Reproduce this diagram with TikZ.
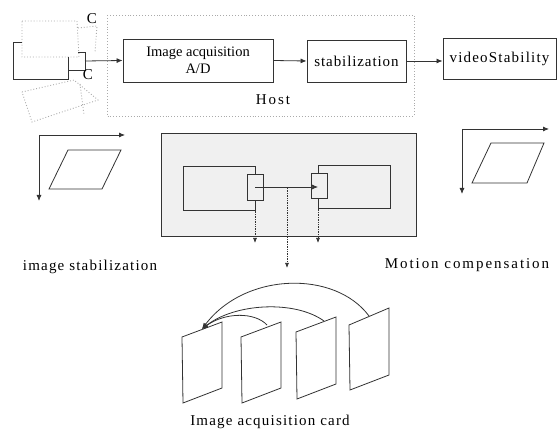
\documentclass[tikz,border=0pt]{standalone}
\usepackage{fontspec}
\setmainfont{Liberation Serif}
\newfontfamily\lsA[LetterSpace=6]{Liberation Serif}
\newfontfamily\lsB[LetterSpace=8]{Liberation Serif}
\newfontfamily\lsC[LetterSpace=13]{Liberation Serif}
\usetikzlibrary{arrows.meta}
\definecolor{ln}{HTML}{333333}
\definecolor{dt}{HTML}{AAAAAA}
\begin{document}
\begin{tikzpicture}[x=1pt,y=-1pt,
  every node/.style={font=\fontsize{15}{16}\selectfont, text=black},
  blk/.style={draw=ln, line width=0.9pt, inner sep=0pt, fill=white},
  ln/.style={draw=ln, line width=0.8pt},
  arr/.style={ln, -{Latex[length=6pt,width=5pt]}},
  dots/.style={draw=dt, line width=0.9pt, dotted},
  darr/.style={draw=ln, line width=0.7pt, densely dotted, -{Latex[length=5pt,width=4pt]}}]
\useasboundingbox (0,0) rectangle (558,430);
% camera (dotted outlines)
\draw[dots] (22,21) -- (77,21) -- (79,57) -- (22,57) -- cycle;
\draw[dots] (78,28) -- (97,26) -- (95,52);
\draw[dots] (22,92) -- (74,80) -- (98,100) -- (32,122) -- cycle;
\draw[dots] (80,84) -- (84,115);
% camera body
\draw[ln] (22,42) -- (13,42) -- (13,79) -- (68,79) -- (68,57);
\draw[ln] (68,70) -- (85,70) -- (85,52) -- (78,52);
\coordinate (cam) at (85,61);
\node (c1) at (92,19) {C};
\node (c2) at (88,75) {C};
% host
\draw[dots] (107,15) rectangle (414,116);
\node[font=\fontsize{15}{16}\lsC] (host) at (273,100) {Host};
\node[blk, minimum width=150pt, minimum height=43pt, align=center, font=\fontsize{14.5}{17}\selectfont] (acq) at (198,60.5) {Image acquisition\\A/D};
\node[blk, minimum width=99pt, minimum height=42pt, font=\fontsize{15}{16}\lsA] (stab) at (356.5,61) {stabilization};
\node[blk, minimum width=113pt, minimum height=41pt, font=\fontsize{15}{16}\lsB] (vid) at (499.5,58.5) {videoStability};
\draw[arr] (cam) -- (acq.west);
\draw[arr] (acq.east) -- (stab.west);
\draw[arr] (stab.east) -- (stab.east -| vid.west);
% left axes
\coordinate (lo) at (39,135);
\coordinate (lx) at (125,135);
\coordinate (ly) at (39,201);
\draw[arr] (lo) -- (lx);
\draw[arr] (lo) -- (ly);
\draw[ln] (68,150) -- (121,150) -- (102,189) -- (49,189) -- cycle;
% right axes
\coordinate (ro) at (462,129);
\coordinate (rx) at (549,129);
\coordinate (ry) at (462,194);
\draw[arr] (ro) -- (rx);
\draw[arr] (ro) -- (ry);
\draw[ln] (491,143) -- (544,143) -- (527,183) -- (472,183) -- cycle;
% motion compensation box
\node[draw=ln, fill=black!6, line width=0.9pt, minimum width=255pt, minimum height=103pt] (mc) at (288.5,184.5) {};
\node[draw=ln, line width=0.7pt, minimum width=72pt, minimum height=44pt] (ra) at (219,188) {};
\node[draw=ln, line width=0.7pt, minimum width=72pt, minimum height=43pt] (rb) at (354,186.5) {};
\node[draw=ln, line width=0.7pt, fill=black!6, minimum width=16pt, minimum height=26pt] (sa) at (255,187) {};
\node[draw=ln, line width=0.7pt, fill=black!6, minimum width=16pt, minimum height=25pt] (sb) at (319,185.5) {};
\coordinate (pa) at (255,187);
\coordinate (pb) at (318,187);
\draw[arr, line width=0.7pt] (pa) -- (pb);
\coordinate (da) at (255,243);
\coordinate (db) at (318,243);
\coordinate (dm0) at (287,188);
\coordinate (dm) at (287,268);
\draw[darr] (sa.south) -- (da);
\draw[darr] (sb.south -| pb) -- (db);
\draw[darr] (dm0) -- (dm);
\node[font=\fontsize{15}{16}\lsB] (ist) at (90,267) {image stabilization};
\node[font=\fontsize{15}{16}\lsC] (mcl) at (467,265) {Motion compensation};
% cards
\draw[ln] (182,337) -- (222,322) -- (222,388) -- (183,403) -- cycle;
\draw[ln] (241,337) -- (281,322) -- (281,388) -- (242,403) -- cycle;
\draw[ln] (296,332) -- (336,317) -- (336,384) -- (297,399) -- cycle;
\draw[ln] (349,325) -- (389,308) -- (389,375) -- (350,390) -- cycle;
\coordinate (t1) at (202,329);
\coordinate (t2) at (267,325);
\coordinate (t3) at (324,321);
\coordinate (t4) at (369,316);
\draw[arr] (t2) .. controls (255,312) and (225,312) .. (t1);
\draw[arr] (t3) .. controls (295,300) and (235,303) .. (t1);
\draw[arr] (t4) .. controls (335,270) and (245,272) .. (t1);
\node[font=\fontsize{15}{16}\lsB] (card) at (270,422) {Image acquisition card};
\end{tikzpicture}
\end{document}
